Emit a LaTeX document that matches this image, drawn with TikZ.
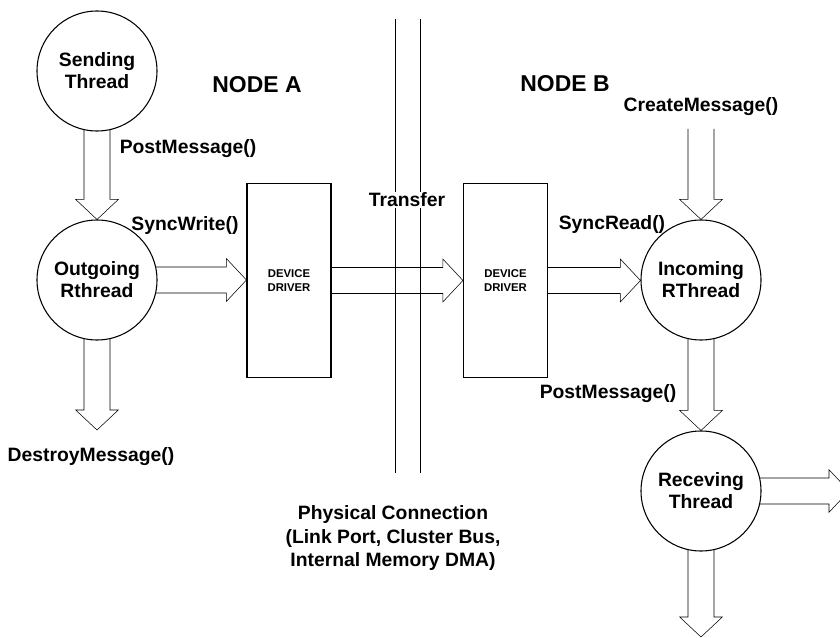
\documentclass[tikz,border=0pt]{standalone}
\usepackage{fontspec}
\setmainfont{Liberation Sans}
\usetikzlibrary{calc}
\pgfdeclarelayer{background}
\pgfsetlayers{background,main}

\tikzset{
  thread/.style={draw, circle, fill=white, minimum size=90pt, inner sep=0pt,
    align=center, font=\bfseries\fontsize{14.5}{16.5}\selectfont},
  driver/.style={draw, rectangle, fill=white, minimum width=63pt, minimum height=146pt,
    align=center, font=\bfseries\fontsize{8.5}{10.5}\selectfont},
  call/.style={align=center, font=\bfseries\fontsize{14.5}{17.3}\selectfont},
  side/.style={font=\bfseries\fontsize{17.2}{20}\selectfont},
  pipe/.style={draw, fill=white, line join=miter},
}

% hollow block arrows
\newcommand{\piperight}[2]{%
  \draw[pipe] let \p1=(#1), \p2=(#2) in
    (\x1,\y1+9.75pt) -- (\x2-15pt,\y1+9.75pt) -- (\x2-15pt,\y1+16pt) -- (\x2,\y1)
    -- (\x2-15pt,\y1-16pt) -- (\x2-15pt,\y1-9.75pt) -- (\x1,\y1-9.75pt);}
\newcommand{\pipedown}[2]{%
  \draw[pipe] let \p1=(#1), \p2=(#2) in
    (\x1-9.75pt,\y1) -- (\x1-9.75pt,\y2+15pt) -- (\x1-16pt,\y2+15pt) -- (\x1,\y2)
    -- (\x1+16pt,\y2+15pt) -- (\x1+9.75pt,\y2+15pt) -- (\x1+9.75pt,\y1);}

\begin{document}
\begin{tikzpicture}[x=0.75pt, y=-0.75pt, thick]
  \useasboundingbox (0,0) rectangle (840,638);
  %
  % physical connection
  \foreach \x in {395,420} {
    \draw[semithick] (\x,19) -- (\x,473);
  }
  \node[call, fill=white, inner sep=1pt] (transfer) at (407,200) {Transfer};
  \node[call] (phys) at (393,538) {Physical Connection\\(Link Port, Cluster Bus,\\Internal Memory DMA)};
  %
  \node[side] (nodea) at (257,85) {NODE A};
  \node[side] (nodeb) at (565,84) {NODE B};
  %
  \node[thread] (sending) at (97,71) {Sending\\Thread};
  \node[thread] (outgoing) at (97,280) {Outgoing\\Rthread};
  \node[driver] (drva) at (289,280.5) {DEVICE\\DRIVER};
  \node[driver] (drvb) at (505.5,280.5) {DEVICE\\DRIVER};
  \node[thread] (incoming) at (701,280) {Incoming\\RThread};
  \node[thread] (receiving) at (701,491) {Receving\\Thread};
  %
  \node[call] (posta) at (188,149) {PostMessage()};
  \node[call] (write) at (185,226) {SyncWrite()};
  \node[call] (destroy) at (91,457) {DestroyMessage()};
  \node[call] (create) at (701,107) {CreateMessage()};
  \node[call] (read) at (612,225) {SyncRead()};
  \node[call] (postb) at (608,394) {PostMessage()};
  %
  \coordinate (createtop) at (701,129);
  \coordinate (destroyend) at (97,430);
  \coordinate (outright) at (849,492);
  \coordinate (outdown) at (701,637);
  %
  \begin{pgfonlayer}{background}
    \pipedown{sending.center}{outgoing.north}
    \pipedown{outgoing.center}{destroyend}
    \pipedown{createtop}{incoming.north}
    \pipedown{incoming.center}{receiving.north}
    \pipedown{receiving.center}{outdown}
    \piperight{outgoing.center}{drva.west}
    \piperight{drva.center}{drvb.west}
    \piperight{drvb.center}{incoming.west}
    \piperight{receiving.center}{outright}
  \end{pgfonlayer}
\end{tikzpicture}
\end{document}
